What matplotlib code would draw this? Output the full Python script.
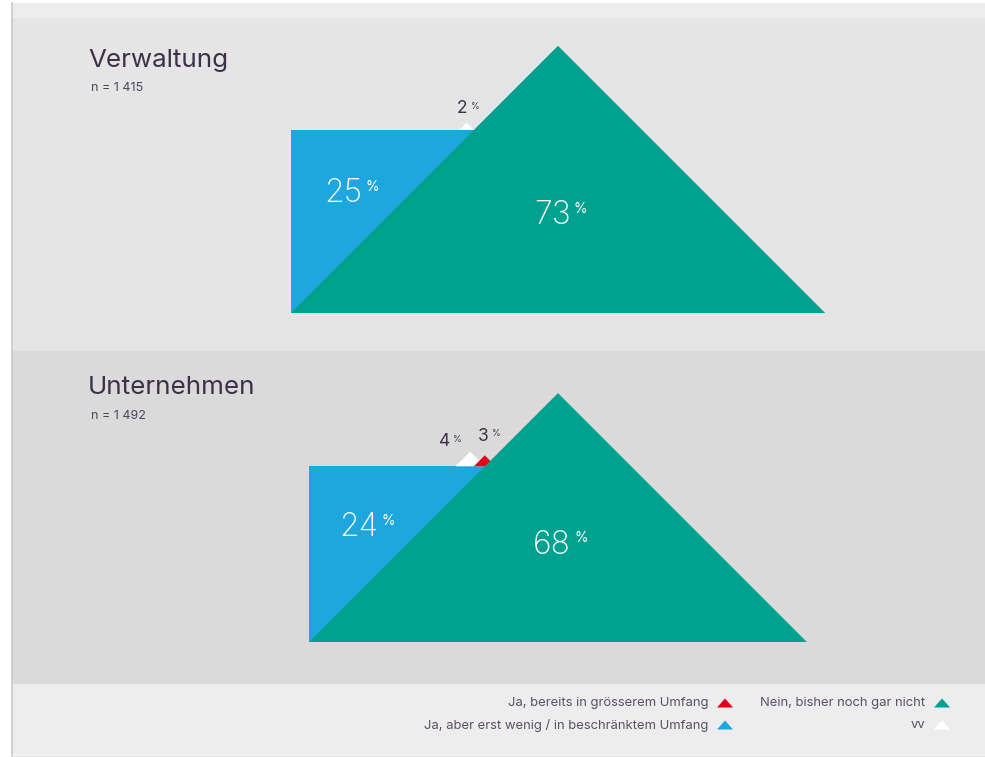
import matplotlib.pyplot as plt
from matplotlib.patches import Polygon, Rectangle

# Data (percent)
panels = ['Verwaltung', 'Unternehmen']
n_labels = ['n = 1 415', 'n = 1 492']
ja_gross = [0, 3]      # Ja, bereits in grösserem Umfang
ja_wenig = [25, 24]    # Ja, aber erst wenig / in beschränktem Umfang
nein = [73, 68]        # Nein, bisher noch gar nicht
vv = [2, 4]            # vv

legend_labels = ['Ja, bereits in grösserem Umfang',
                 'Ja, aber erst wenig / in beschränktem Umfang',
                 'Nein, bisher noch gar nicht',
                 'vv']

RED = '#e2001a'
BLUE = '#1ea6df'
GREEN = '#00a18f'
WHITE = '#ffffff'
TXT = '#3d3149'
LEG_TXT = '#5b5066'

plt.rcParams['font.family'] = ['Inter', 'DejaVu Sans']

fig = plt.figure(figsize=(9.85, 7.57), dpi=100)
ax = fig.add_axes([0, 0, 1, 1])
ax.set_xlim(0, 985)
ax.set_ylim(757, 0)
ax.axis('off')

# panel backgrounds
ax.add_patch(Rectangle((12, 3), 973, 15, color='#ededed', lw=0))
ax.add_patch(Rectangle((12, 18), 973, 333, color='#e5e5e5', lw=0))
ax.add_patch(Rectangle((12, 351), 973, 333, color='#dadada', lw=0))
ax.add_patch(Rectangle((12, 684), 973, 71, color='#ededed', lw=0))
ax.plot([12, 12], [3, 757], color='#c9c9c9', lw=1.2)
ax.plot([12, 985], [755.5, 755.5], color='#dedede', lw=1)

scale = 3.66          # px per percent
cx = 558
bases = [313, 642]
title_y = [60, 388]


def tri(apex_x, base_y, h, color, z):
    ax.add_patch(Polygon([(apex_x - h, base_y), (apex_x, base_y - h),
                          (apex_x + h, base_y)], closed=True,
                         facecolor=color, edgecolor='none', zorder=z))


def pct_label(x, y, value, size, color, psize, weight='normal'):
    t = ax.text(x, y, f'{value}', ha='center', va='center', fontsize=size,
                color=color, fontweight=weight, zorder=10)
    ax.annotate('%', xy=(1, 1), xycoords=t, xytext=(2.5, -1),
                textcoords='offset points', ha='left', va='top',
                fontsize=psize, color=color, zorder=10)


for i in range(2):
    base = bases[i]
    hg = nein[i] * scale
    hb = 2 * ja_wenig[i] * scale
    x0 = cx - hg
    top = base - hb
    corner_x = x0 + hb

    # blue block, lower-right half hidden by the green triangle
    ax.add_patch(Rectangle((x0, top), hb, hb, facecolor=BLUE,
                           edgecolor='none', zorder=2))
    # small triangles on top of the blue block
    hw = vv[i] * scale
    hr = ja_gross[i] * scale
    if hw > 0:
        tri(corner_x - hw, top, hw, WHITE, 3)
    if hr > 0:
        tri(corner_x, top, hr, RED, 4)
    tri(cx, base, hg, GREEN, 5)

    # labels
    pct_label(x0 + hb / 3 - 9, top + hb / 3 + 3, ja_wenig[i], 23, 'white', 10,
              'light')
    pct_label(cx - 6, base - 97, nein[i], 23, 'white', 10, 'light')
    white_dx = -4 - (2 * hr if hr > 0 else 0)
    pct_label(corner_x - hw + white_dx, top - hw - 14 + (4 if hr > 0 else 0),
              vv[i], 12.5, TXT, 6.5)
    if hr > 0:
        pct_label(corner_x - 2, top - hr - 19, ja_gross[i], 12.5, TXT, 6.5)

    ax.text(88, title_y[i], panels[i], fontsize=18.7, color=TXT,
            ha='left', va='center')
    ax.text(91, title_y[i] + 28, n_labels[i], fontsize=9, color='#4f4558',
            ha='left', va='center')

# legend
leg_pos = [(708, 703), (708, 725), (925, 703), (925, 725)]
leg_cols = [RED, BLUE, GREEN, WHITE]
for (x, y), lab, col in zip(leg_pos, legend_labels, leg_cols):
    ax.text(x, y, lab, fontsize=9.4, color=LEG_TXT, ha='right', va='center')
    mx = x + 17
    ax.add_patch(Polygon([(mx - 8, y + 4.5), (mx, y - 4.5), (mx + 8, y + 4.5)],
                         closed=True, facecolor=col, edgecolor='none'))

fig.savefig('out.png', dpi=100)
